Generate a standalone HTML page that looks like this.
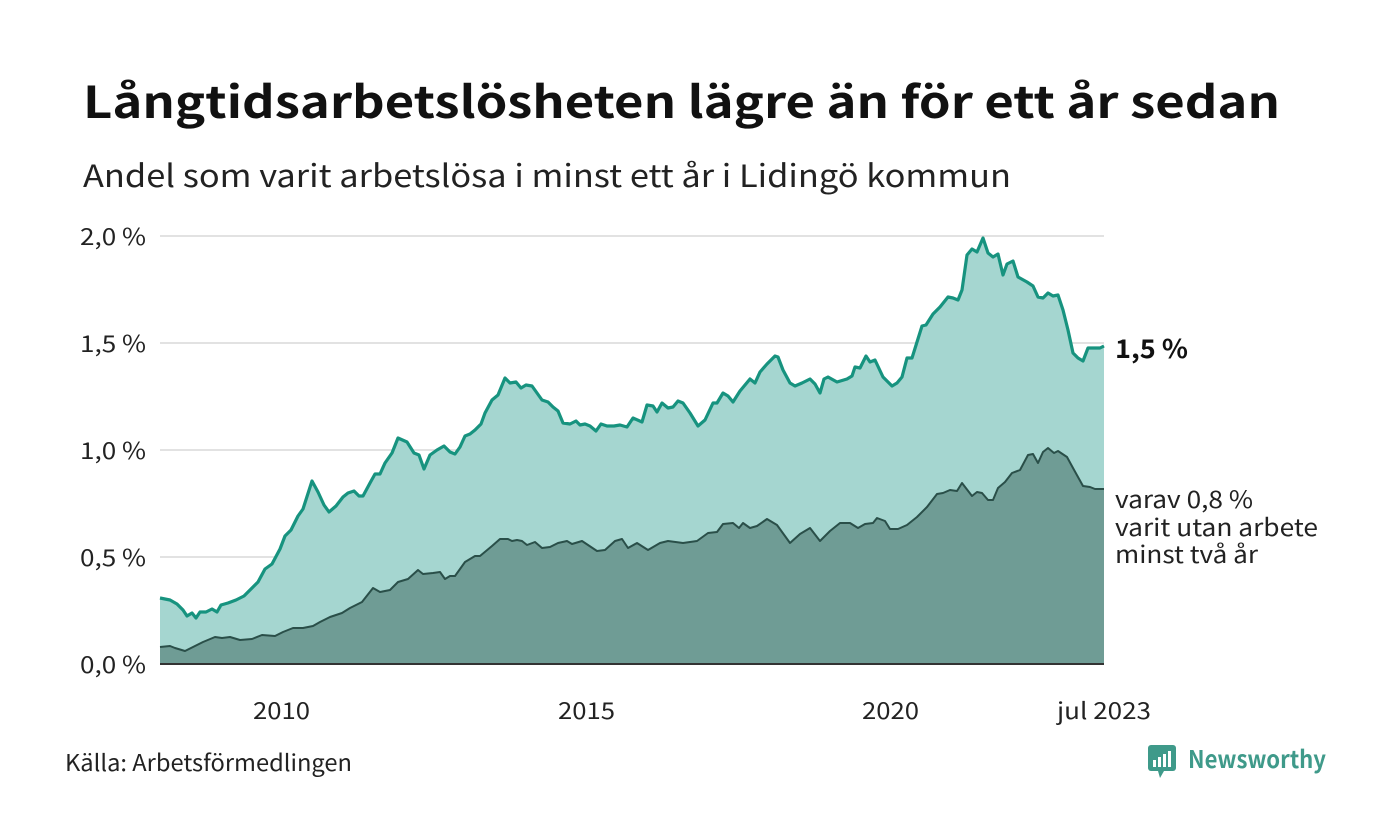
<!DOCTYPE html>
<html><head><meta charset="utf-8"><style>
html,body{margin:0;padding:0;background:#fff;}
svg{display:block;font-family:"Noto Sans CJK JP","Liberation Sans",sans-serif;}
</style></head><body>
<svg width="1400" height="840" viewBox="0 0 1400 840">
<rect width="1400" height="840" fill="#fff"/>
<text x="83" y="118" font-size="44" font-weight="bold" fill="#111" textLength="1197" lengthAdjust="spacingAndGlyphs">Långtidsarbetslösheten lägre än för ett år sedan</text>
<text x="83" y="187" font-size="31" fill="#222" textLength="928" lengthAdjust="spacingAndGlyphs">Andel som varit arbetslösa i minst ett år i Lidingö kommun</text>
<g stroke="#e2e2e2" stroke-width="2">
<line x1="160" y1="236" x2="1104" y2="236"/><line x1="160" y1="343" x2="1104" y2="343"/><line x1="160" y1="450" x2="1104" y2="450"/><line x1="160" y1="557" x2="1104" y2="557"/>
</g>
<g font-size="23" fill="#222">
<text x="80" y="245" textLength="66" lengthAdjust="spacingAndGlyphs">2,0 %</text><text x="80" y="352" textLength="66" lengthAdjust="spacingAndGlyphs">1,5 %</text><text x="80" y="459" textLength="66" lengthAdjust="spacingAndGlyphs">1,0 %</text><text x="80" y="566" textLength="66" lengthAdjust="spacingAndGlyphs">0,5 %</text><text x="80" y="673" textLength="66" lengthAdjust="spacingAndGlyphs">0,0 %</text>
</g>
<polygon fill="#a5d6d0" points="160,664 160,598 170,600 177,604 183,610 187,616 192,613 196,618 200,612 206,612 212,609 217,612 221,605 228,603 236,600 244,596 251,589 258,582 265,569 272,564 280,549 285,536 291,530 298,516 303,509 312,481 318,492 324,505 329,512 336,506 343,497 348,493 354,491 359,496 363,496 370,483 375,474 380,474 385,463 392,453 398,438 407,442 414,453 419,455 424,469 430,455 437,450 444,446 450,452 455,454 460,447 465,436 470,434 475,430 481,424 485,413 492,400 498,395 505,378 510,383 516,382 521,388 526,385 532,386 537,393 542,400 548,402 553,407 558,411 563,423 570,424 576,421 580,425 585,424 590,426 596,431 601,424 607,426 614,426 620,425 627,427 633,418 642,422 647,405 653,406 657,412 662,403 668,408 673,407 678,401 683,403 690,413 698,426 705,420 713,403 717,403 723,393 728,396 733,402 740,391 750,379 755,383 760,372 767,364 775,356 778,357 783,370 790,383 795,386 802,383 810,379 815,384 820,393 824,379 828,377 837,382 847,379 852,376 855,367 860,368 866,356 870,362 875,360 883,377 892,386 897,383 902,377 907,358 912,358 922,326 926,325 933,314 940,307 948,297 953,298 958,300 962,290 967,255 972,249 977,252 983,238 988,253 993,257 998,254 1003,275 1007,264 1013,261 1018,277 1027,282 1033,286 1038,297 1043,298 1048,293 1053,296 1058,295 1063,310 1068,330 1073,353 1078,358 1083,361 1088,348 1093,348 1100,348 1104,346 1104,664"/>
<polyline fill="none" stroke="#17937f" stroke-width="3.2" stroke-linejoin="round" points="160,598 170,600 177,604 183,610 187,616 192,613 196,618 200,612 206,612 212,609 217,612 221,605 228,603 236,600 244,596 251,589 258,582 265,569 272,564 280,549 285,536 291,530 298,516 303,509 312,481 318,492 324,505 329,512 336,506 343,497 348,493 354,491 359,496 363,496 370,483 375,474 380,474 385,463 392,453 398,438 407,442 414,453 419,455 424,469 430,455 437,450 444,446 450,452 455,454 460,447 465,436 470,434 475,430 481,424 485,413 492,400 498,395 505,378 510,383 516,382 521,388 526,385 532,386 537,393 542,400 548,402 553,407 558,411 563,423 570,424 576,421 580,425 585,424 590,426 596,431 601,424 607,426 614,426 620,425 627,427 633,418 642,422 647,405 653,406 657,412 662,403 668,408 673,407 678,401 683,403 690,413 698,426 705,420 713,403 717,403 723,393 728,396 733,402 740,391 750,379 755,383 760,372 767,364 775,356 778,357 783,370 790,383 795,386 802,383 810,379 815,384 820,393 824,379 828,377 837,382 847,379 852,376 855,367 860,368 866,356 870,362 875,360 883,377 892,386 897,383 902,377 907,358 912,358 922,326 926,325 933,314 940,307 948,297 953,298 958,300 962,290 967,255 972,249 977,252 983,238 988,253 993,257 998,254 1003,275 1007,264 1013,261 1018,277 1027,282 1033,286 1038,297 1043,298 1048,293 1053,296 1058,295 1063,310 1068,330 1073,353 1078,358 1083,361 1088,348 1093,348 1100,348 1104,346"/>
<polygon fill="#6f9c95" points="160,664 160,647 170,646 175,648 185,651 193,647 203,642 215,637 222,638 230,637 240,640 252,639 262,635 275,636 283,632 293,628 303,628 313,626 320,622 330,617 342,613 350,608 362,602 373,588 380,592 390,590 398,582 408,579 418,570 423,574 433,573 440,572 445,579 450,576 455,576 465,562 475,556 480,556 492,546 500,539 508,539 512,541 517,540 522,541 527,545 535,542 542,548 550,547 558,543 567,541 572,544 582,541 597,551 605,550 615,541 622,539 628,548 637,543 648,550 660,543 668,541 683,543 697,541 708,533 717,532 723,524 733,523 739,528 743,523 750,528 757,526 767,519 777,525 790,543 800,534 810,528 820,541 830,531 840,523 850,523 858,528 865,524 873,523 877,518 885,521 890,529 898,529 907,525 917,517 927,507 937,494 943,493 950,490 957,491 962,483 972,496 977,492 982,493 988,500 993,500 998,488 1005,482 1012,473 1020,470 1028,455 1033,454 1038,463 1043,452 1048,448 1054,453 1058,451 1067,457 1073,468 1083,486 1090,487 1095,489 1104,489 1104,664"/>
<polyline fill="none" stroke="#2a4f49" stroke-width="2" stroke-linejoin="round" points="160,647 170,646 175,648 185,651 193,647 203,642 215,637 222,638 230,637 240,640 252,639 262,635 275,636 283,632 293,628 303,628 313,626 320,622 330,617 342,613 350,608 362,602 373,588 380,592 390,590 398,582 408,579 418,570 423,574 433,573 440,572 445,579 450,576 455,576 465,562 475,556 480,556 492,546 500,539 508,539 512,541 517,540 522,541 527,545 535,542 542,548 550,547 558,543 567,541 572,544 582,541 597,551 605,550 615,541 622,539 628,548 637,543 648,550 660,543 668,541 683,543 697,541 708,533 717,532 723,524 733,523 739,528 743,523 750,528 757,526 767,519 777,525 790,543 800,534 810,528 820,541 830,531 840,523 850,523 858,528 865,524 873,523 877,518 885,521 890,529 898,529 907,525 917,517 927,507 937,494 943,493 950,490 957,491 962,483 972,496 977,492 982,493 988,500 993,500 998,488 1005,482 1012,473 1020,470 1028,455 1033,454 1038,463 1043,452 1048,448 1054,453 1058,451 1067,457 1073,468 1083,486 1090,487 1095,489 1104,489"/>
<line x1="160" y1="664" x2="1104" y2="664" stroke="#333" stroke-width="2"/>
<g font-size="23" fill="#222">
<text x="253" y="719" textLength="57" lengthAdjust="spacingAndGlyphs">2010</text><text x="558" y="719" textLength="57" lengthAdjust="spacingAndGlyphs">2015</text><text x="862" y="719" textLength="57" lengthAdjust="spacingAndGlyphs">2020</text><text x="1057" y="719" textLength="94" lengthAdjust="spacingAndGlyphs">jul 2023</text>
</g>
<text x="1115" y="358" font-size="26" font-weight="bold" fill="#111" textLength="73" lengthAdjust="spacingAndGlyphs">1,5 %</text>
<g font-size="24" fill="#222">
<text x="1115" y="508" textLength="138" lengthAdjust="spacingAndGlyphs">varav 0,8 %</text><text x="1115" y="536" textLength="203" lengthAdjust="spacingAndGlyphs">varit utan arbete</text><text x="1115" y="563" textLength="143" lengthAdjust="spacingAndGlyphs">minst två år</text>
</g>
<text x="65" y="771" font-size="23" fill="#222" textLength="287" lengthAdjust="spacingAndGlyphs">Källa: Arbetsförmedlingen</text>
<g>
<rect x="1148" y="745" width="28" height="26" rx="3" fill="#3f9a8a"/>
<polygon points="1158,771 1164,771 1160,778" fill="#3f9a8a"/>
<rect x="1153" y="760" width="3" height="7" fill="#fff"/><rect x="1158" y="757" width="3" height="10" fill="#fff"/><rect x="1163" y="754" width="3" height="13" fill="#fff"/><rect x="1168" y="751" width="3" height="16" fill="#fff"/>
<text x="1188" y="768" font-size="24" font-weight="bold" fill="#3f9a8a" textLength="138" lengthAdjust="spacingAndGlyphs">Newsworthy</text>
</g>
</svg>
</body></html>
